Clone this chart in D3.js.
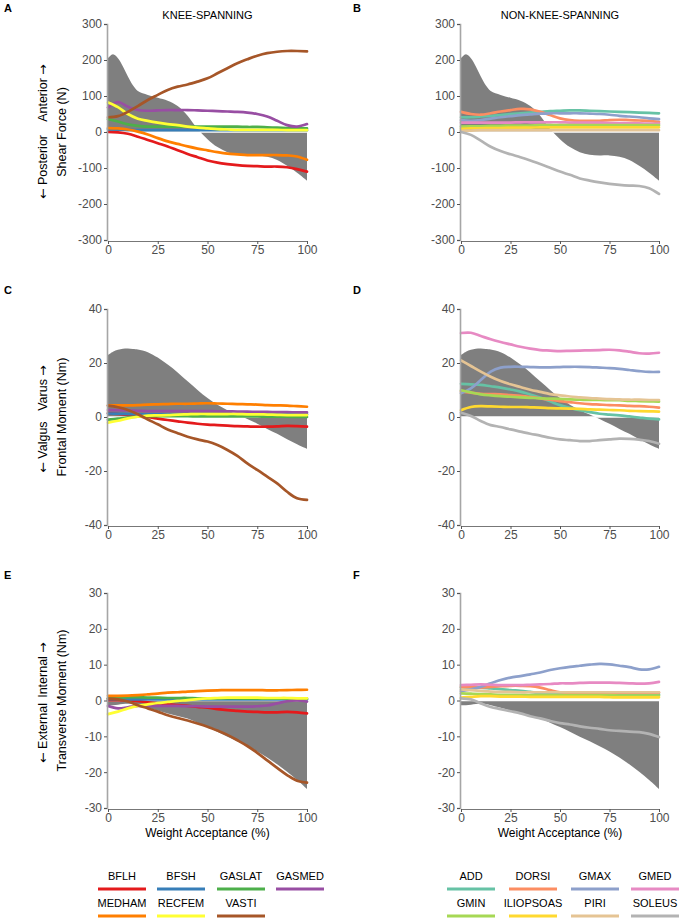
<!DOCTYPE html>
<html>
<head>
<meta charset="utf-8">
<script src="https://cdn.jsdelivr.net/npm/d3@7"></script>
<style>
  body { margin: 0; background: #fff; }
  svg text { font-family: "Liberation Sans", Arial, sans-serif; }
  .tick text { fill: #4d4d4d; font-size: 12px; }
  .arrow { font-family: "DejaVu Sans", sans-serif; }
</style>
</head>
<body>
<svg id="chart" width="680" height="919"></svg>
<script>
// x positions (% weight acceptance) shared by the muscle curves
var pct = [0, 5, 10, 15, 20, 25, 30, 35, 40, 45, 50, 55, 60, 65, 70, 75, 80, 85, 90, 95, 100];
// x positions for the net (grey) curve
var netX = [0, 2.5, 5, 7.5, 10, 12.5, 15, 20, 25, 30, 35, 40, 45, 50, 55, 60, 65, 70, 75, 80, 85, 90, 95, 100];

var kneeMuscles = ["BFLH", "BFSH", "GASLAT", "GASMED", "MEDHAM", "RECFEM", "VASTI"];
var kneeColors = ["#e41a1c", "#377eb8", "#4daf4a", "#984ea3", "#ff7f00", "#ffff33", "#a65628"];
var nonKneeMuscles = ["ADD", "DORSI", "GMAX", "GMED", "GMIN", "ILIOPSOAS", "PIRI", "SOLEUS"];
var nonKneeColors = ["#66c2a5", "#fc8d62", "#8da0cb", "#e78ac3", "#a6d854", "#ffd92f", "#e5c494", "#b3b3b3"];

var xTicks = [0, 25, 50, 75, 100];
var shearTicks = [-300, -200, -100, 0, 100, 200, 300];
var frontalTicks = [-40, -20, 0, 20, 40];
var transTicks = [-30, -20, -10, 0, 10, 20, 30];

// net joint loads (grey area)
var netShear = [205, 216, 205, 182, 154, 130, 114, 103, 95, 87, 72, 45, 8, -20, -42, -56, -63, -65, -65, -69, -78, -94, -113, -135];
var netFrontal = [23, 24.2, 24.9, 25.3, 25.4, 25.2, 25, 24, 22, 19.4, 16.5, 13.2, 10, 7, 4.5, 2.5, 0.9, -0.7, -2.5, -4.4, -6.2, -8.2, -10.1, -11.8];
var netTrans = [-1.3, -1.3, -1.2, -1.0, -0.9, -1.0, -1.3, -2.0, -2.8, -3.6, -4.3, -5.0, -6.2, -7.4, -8.7, -10.1, -11.4, -12.8, -14.2, -15.9, -17.8, -19.9, -22.2, -24.7];

// shear force, knee-spanning (order of kneeMuscles)
var shearKnee = [
  [0, -1, -5, -13, -22, -31, -40, -51, -61, -70, -79, -85, -89, -92, -94, -95, -96, -96, -98, -103, -110],
  [8, 7, 6, 5, 5, 5, 5, 5, 5, 5, 5, 5, 5, 5, 5, 5, 5, 5, 5, 5, 5],
  [36, 29, 21, 17, 15, 15, 15, 15, 15, 15, 15, 15, 15, 15, 14, 14, 13, 12, 11, 10, 10],
  [68, 83, 70, 61, 59, 60, 61, 61, 61, 60, 59, 58, 57, 56, 54, 50, 43, 31, 19, 15, 22],
  [11, 10, 7, 1, -7, -17, -26, -33, -40, -46, -51, -56, -60, -62, -64, -64, -64, -64, -65, -68, -77],
  [82, 69, 50, 37, 31, 26, 22, 19, 15, 12, 10, 8, 7, 6, 6, 6, 6, 6, 5, 5, 5],
  [41, 44, 56, 72, 89, 103, 117, 126, 132, 140, 149, 163, 177, 191, 202, 212, 219, 223, 225, 225, 224]
];
// shear force, non-knee-spanning
var shearNon = [
  [41, 41, 43, 45, 47, 50, 52, 54, 56, 58, 59, 60, 60, 59, 58, 57, 56, 55, 54, 53, 52],
  [56, 50, 48, 52, 57, 61, 64, 63, 56, 47, 38, 33, 31, 31, 31, 33, 34, 33, 32, 31, 28],
  [33, 31, 33, 37, 41, 44, 47, 49, 51, 52, 52, 52, 52, 51, 50, 48, 45, 43, 41, 38, 36],
  [26, 26, 26, 26, 26, 26, 27, 27, 27, 27, 27, 26, 26, 26, 26, 25, 25, 24, 24, 23, 23],
  [15, 16, 16, 17, 17, 18, 18, 18, 19, 19, 19, 19, 19, 19, 19, 19, 19, 19, 19, 19, 19],
  [9, 10, 10, 11, 11, 12, 12, 12, 13, 13, 13, 13, 13, 13, 13, 13, 13, 13, 13, 13, 13],
  [3, 4, 5, 5, 5, 5, 5, 5, 5, 5, 5, 5, 5, 5, 5, 5, 5, 5, 5, 5, 5],
  [0, -8, -24, -41, -53, -62, -70, -79, -89, -99, -110, -119, -129, -135, -140, -144, -147, -149, -150, -156, -172]
];
// frontal moment, knee-spanning
var frontalKnee = [
  [1.4, 1.1, 0.7, 0.3, -0.1, -0.6, -1.1, -1.6, -2.1, -2.5, -2.8, -3.0, -3.2, -3.4, -3.5, -3.6, -3.6, -3.5, -3.3, -3.4, -3.6],
  [1.3, 1.2, 1.1, 1.0, 1.0, 1.0, 1.0, 1.0, 1.0, 1.0, 1.0, 1.0, 1.0, 1.0, 1.0, 1.0, 1.0, 1.0, 1.0, 1.0, 1.0],
  [-1.0, -0.6, -0.2, 0.1, 0.3, 0.3, 0.3, 0.3, 0.3, 0.2, 0.2, 0.2, 0.2, 0.2, 0.2, 0.2, 0.1, 0.1, 0.1, 0.0, 0.0],
  [2.6, 2.5, 2.4, 2.3, 2.2, 2.2, 2.2, 2.2, 2.2, 2.2, 2.2, 2.1, 2.1, 2.0, 2.0, 1.9, 1.9, 1.8, 1.8, 1.7, 1.7],
  [4.3, 4.3, 4.3, 4.4, 4.6, 4.7, 4.8, 4.9, 4.9, 5.0, 5.1, 5.0, 4.9, 4.8, 4.7, 4.6, 4.4, 4.3, 4.2, 4.0, 3.8],
  [-2.1, -1.4, -0.5, 0.1, 0.5, 0.6, 0.7, 0.9, 1.0, 1.1, 1.1, 1.1, 1.1, 1.1, 1.0, 1.0, 0.9, 0.8, 0.7, 0.7, 0.7],
  [4.2, 3.6, 2.6, 1.0, -0.9, -2.7, -4.6, -6.0, -7.3, -8.3, -9.1, -10.4, -12.2, -14.4, -17.2, -19.6, -22.1, -24.6, -27.7, -30.1, -30.7]
];
// frontal moment, non-knee-spanning
var frontalNon = [
  [12.3, 12.1, 11.9, 11.4, 10.9, 10.2, 9.4, 8.3, 7.2, 5.8, 4.4, 3.4, 2.5, 1.8, 1.2, 0.9, 0.6, 0.2, -0.2, -0.6, -0.9],
  [9.4, 9.0, 8.6, 8.5, 8.4, 8.1, 7.8, 7.4, 6.9, 6.4, 5.9, 5.5, 5.1, 4.8, 4.6, 4.4, 4.3, 4.1, 4.0, 3.8, 3.5],
  [8.8, 10.6, 13.7, 16.8, 18.3, 18.6, 18.6, 18.5, 18.4, 18.4, 18.5, 18.6, 18.6, 18.5, 18.3, 18.1, 17.8, 17.4, 17.0, 16.7, 16.7],
  [31.1, 31.2, 30.0, 28.8, 27.8, 26.9, 26.0, 25.3, 24.8, 24.6, 24.4, 24.5, 24.6, 24.7, 24.8, 24.9, 24.7, 24.2, 23.6, 23.5, 23.8],
  [9.9, 9.1, 8.4, 8.0, 7.7, 7.5, 7.3, 7.1, 6.9, 6.8, 6.7, 6.5, 6.4, 6.3, 6.3, 6.2, 6.2, 6.0, 5.9, 5.8, 5.7],
  [2.5, 3.7, 4.0, 3.9, 3.8, 3.7, 3.7, 3.6, 3.5, 3.3, 3.2, 3.1, 3.0, 2.8, 2.7, 2.6, 2.5, 2.3, 2.2, 2.1, 2.0],
  [21.0, 18.9, 16.8, 14.9, 13.3, 12.1, 11.1, 10.1, 9.3, 8.5, 8.0, 7.6, 7.3, 7.0, 6.8, 6.6, 6.5, 6.4, 6.4, 6.3, 6.3],
  [1.6, 0.4, -1.5, -3.0, -3.7, -4.6, -5.4, -6.2, -6.9, -7.7, -8.3, -8.6, -8.9, -8.9, -8.6, -8.3, -8.0, -8.1, -8.4, -8.9, -9.9]
];
// transverse moment, knee-spanning
var transKnee = [
  [0.1, 0.1, 0.0, -0.2, -0.5, -0.8, -1.1, -1.3, -1.5, -1.8, -2.0, -2.4, -2.7, -2.9, -3.1, -3.2, -3.3, -3.3, -3.2, -3.3, -3.6],
  [0.4, 0.4, 0.3, 0.3, 0.3, 0.3, 0.3, 0.3, 0.3, 0.3, 0.3, 0.3, 0.3, 0.3, 0.3, 0.3, 0.3, 0.3, 0.3, 0.3, 0.3],
  [0.6, 0.8, 0.9, 0.9, 0.8, 0.8, 0.7, 0.7, 0.7, 0.6, 0.6, 0.6, 0.6, 0.6, 0.5, 0.5, 0.5, 0.5, 0.5, 0.5, 0.5],
  [-1.5, -2.2, -1.9, -1.5, -1.5, -1.5, -1.5, -1.5, -1.6, -1.6, -1.7, -1.7, -1.7, -1.7, -1.7, -1.6, -1.4, -0.8, -0.2, 0.0, -0.3],
  [1.3, 1.3, 1.35, 1.5, 1.7, 1.9, 2.2, 2.3, 2.5, 2.6, 2.75, 2.85, 2.9, 2.9, 2.9, 2.9, 2.85, 2.85, 2.9, 2.95, 3.0],
  [-3.8, -3.1, -2.2, -1.5, -1.1, -0.7, -0.4, -0.1, 0.1, 0.4, 0.6, 0.7, 0.8, 0.8, 0.8, 0.8, 0.7, 0.7, 0.7, 0.6, 0.6],
  [0.5, 0.3, -0.3, -1.3, -2.2, -3.1, -4.1, -4.9, -5.6, -6.4, -7.3, -8.4, -9.6, -11.1, -12.7, -14.6, -16.7, -18.8, -20.8, -22.4, -22.9]
];
// transverse moment, non-knee-spanning
var transNon = [
  [3.6, 3.6, 3.6, 3.4, 3.2, 2.9, 2.7, 2.4, 2.1, 2.0, 2.0, 1.9, 1.8, 1.8, 1.8, 1.8, 1.7, 1.7, 1.7, 1.7, 1.7],
  [3.8, 3.7, 3.6, 3.8, 4.0, 4.1, 4.1, 4.0, 3.6, 2.9, 2.3, 2.2, 2.1, 2.1, 2.1, 2.1, 2.2, 2.2, 2.2, 2.2, 2.2],
  [2.6, 3.1, 3.8, 4.8, 5.7, 6.4, 6.8, 7.3, 7.8, 8.5, 9.0, 9.4, 9.7, 10.0, 10.2, 10.1, 9.7, 9.3, 8.7, 8.7, 9.4],
  [4.3, 4.4, 4.5, 4.4, 4.3, 4.3, 4.3, 4.4, 4.5, 4.6, 4.8, 4.8, 4.9, 5.0, 5.0, 5.0, 4.9, 4.8, 4.7, 4.8, 5.2],
  [2.0, 1.9, 1.8, 1.7, 1.6, 1.6, 1.6, 1.5, 1.5, 1.5, 1.5, 1.5, 1.5, 1.5, 1.5, 1.5, 1.4, 1.4, 1.4, 1.4, 1.4],
  [0.8, 1.0, 1.2, 1.2, 1.1, 1.1, 1.1, 1.0, 1.0, 1.0, 1.0, 1.0, 1.0, 1.0, 1.0, 0.9, 0.9, 0.9, 0.9, 0.9, 0.9],
  [3.1, 2.9, 2.7, 2.5, 2.4, 2.4, 2.3, 2.3, 2.3, 2.3, 2.3, 2.3, 2.3, 2.3, 2.3, 2.3, 2.3, 2.3, 2.3, 2.3, 2.3],
  [0.6, 0.3, -0.8, -1.8, -2.4, -3.0, -3.6, -4.4, -5.0, -5.7, -6.3, -6.7, -7.2, -7.6, -7.9, -8.3, -8.5, -8.7, -8.8, -9.3, -10.2]
];


var svg = d3.select("#chart");

// column and row placement in pixels
var cols = [{ left: 108, right: 307 }, { left: 461, right: 659 }];
var rows = [
  { top: 24, bottom: 240, ticks: shearTicks, net: netShear, data: [shearKnee, shearNon],
    label: "Shear Force (N)", pos: "Anterior", neg: "Posterior", posY: 93, negY: 167, letters: ["A", "B"], letterY: 12 },
  { top: 309, bottom: 525, ticks: frontalTicks, net: netFrontal, data: [frontalKnee, frontalNon],
    label: "Frontal Moment (Nm)", pos: "Varus", neg: "Valgus", posY: 388, negY: 447, letters: ["C", "D"], letterY: 294 },
  { top: 593, bottom: 808, ticks: transTicks, net: netTrans, data: [transKnee, transNon],
    label: "Transverse Moment (Nm)", pos: "Internal", neg: "External", posY: 670, negY: 733, letters: ["E", "F"], letterY: 579 }
];
var groups = [
  { names: kneeMuscles, colors: kneeColors, title: "KNEE-SPANNING" },
  { names: nonKneeMuscles, colors: nonKneeColors, title: "NON-KNEE-SPANNING" }
];

function drawPanel(row, col, ri, ci) {
  var g = groups[ci];
  var x = d3.scaleLinear().domain([0, 100]).range([col.left, col.right]);
  var y = d3.scaleLinear().domain([row.ticks[0], row.ticks[row.ticks.length - 1]]).range([row.bottom, row.top]);
  var panel = svg.append("g");

  // net load as grey area from zero
  var area = d3.area()
    .x(function(d, i) { return x(netX[i]); })
    .y0(y(0))
    .y1(function(d) { return y(d); })
    .curve(d3.curveCatmullRom.alpha(0.5));
  panel.append("path").datum(row.net)
    .attr("d", area)
    .attr("fill", "#7f7f7f");

  // white zero line
  panel.append("line")
    .attr("x1", x(0)).attr("x2", x(100))
    .attr("y1", y(0)).attr("y2", y(0))
    .attr("stroke", "#fff").attr("stroke-width", 1.5);

  var line = d3.line()
    .x(function(d, i) { return x(pct[i]); })
    .y(function(d) { return y(d); })
    .curve(d3.curveCatmullRom.alpha(0.5));

  row.data[ci].forEach(function(vals, k) {
    panel.append("path").datum(vals)
      .attr("d", line)
      .attr("fill", "none")
      .attr("stroke", g.colors[k])
      .attr("stroke-width", 2.7)
      .attr("stroke-linecap", "round");
  });

  // axes
  var yAxis = d3.axisLeft(y).tickValues(row.ticks).tickFormat(function(d) { return String(d); }).tickSize(3).tickPadding(2);
  var gy = panel.append("g").attr("transform", "translate(" + (col.left - 1) + ",0)").call(yAxis);
  gy.select(".domain").attr("stroke", "#a6a6a6").attr("stroke-width", 1.6);
  gy.selectAll(".tick line").attr("stroke", "#555");

  var xAxis = d3.axisBottom(x).tickValues(xTicks).tickSize(3).tickPadding(1);
  var gx = panel.append("g").attr("transform", "translate(0," + (row.bottom + 1) + ")").call(xAxis);
  gx.select(".domain").attr("stroke", "#777").attr("stroke-width", 1);
  gx.selectAll(".tick line").attr("stroke", "#555");

  // panel letter
  svg.append("text")
    .attr("x", ci == 0 ? 4 : 353).attr("y", row.letterY)
    .attr("font-size", 11).attr("font-weight", "bold")
    .text(row.letters[ci]);

  if (ri == 0) {
    svg.append("text")
      .attr("x", (col.left + col.right) / 2).attr("y", 19)
      .attr("text-anchor", "middle").attr("font-size", 11)
      .text(g.title);
  }
  if (ri == 2) {
    svg.append("text")
      .attr("x", (col.left + col.right) / 2).attr("y", 837)
      .attr("text-anchor", "middle").attr("font-size", 12)
      .text("Weight Acceptance (%)");
  }
}

rows.forEach(function(row, ri) {
  cols.forEach(function(col, ci) { drawPanel(row, col, ri, ci); });

  // rotated y labels, left column only
  var midY = (row.top + row.bottom) / 2;
  svg.append("text")
    .attr("transform", "translate(66," + midY + ") rotate(-90)")
    .attr("text-anchor", "middle").attr("font-size", 12.5)
    .text(row.label);

  var p = svg.append("text")
    .attr("transform", "translate(47," + row.posY + ") rotate(-90)")
    .attr("text-anchor", "middle").attr("font-size", 12.5);
  p.append("tspan").text(row.pos + " ");
  p.append("tspan").attr("class", "arrow").text("\u2192");

  var n = svg.append("text")
    .attr("transform", "translate(47," + row.negY + ") rotate(-90)")
    .attr("text-anchor", "middle").attr("font-size", 12.5);
  n.append("tspan").attr("class", "arrow").text("\u2190");
  n.append("tspan").text(" " + row.neg);
});

// legends, four per row
function drawLegend(g, centers) {
  g.names.forEach(function(name, i) {
    var cx = centers[i % 4];
    var ty = i < 4 ? 880 : 907;
    svg.append("text")
      .attr("x", cx).attr("y", ty)
      .attr("text-anchor", "middle").attr("font-size", 11)
      .text(name);
    svg.append("line")
      .attr("x1", cx - 24).attr("x2", cx + 24)
      .attr("y1", ty + 9).attr("y2", ty + 9)
      .attr("stroke", g.colors[i]).attr("stroke-width", 3);
  });
}
drawLegend(groups[0], [122, 181, 241, 300]);
drawLegend(groups[1], [471, 533, 595, 655]);
</script>
</body>
</html>
